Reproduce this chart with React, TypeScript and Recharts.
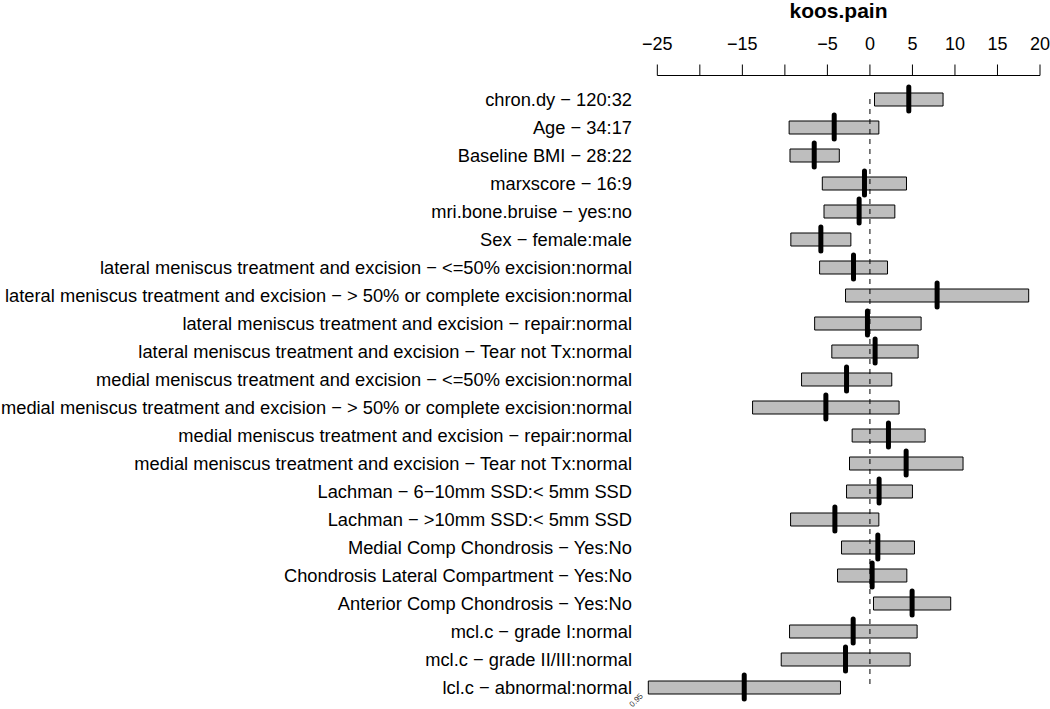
import { Bar, ComposedChart, Line, ReferenceLine, XAxis, YAxis } from "recharts";

const LABELS = [
  "chron.dy − 120:32",
  "Age − 34:17",
  "Baseline BMI − 28:22",
  "marxscore − 16:9",
  "mri.bone.bruise − yes:no",
  "Sex − female:male",
  "lateral meniscus treatment and excision − <=50% excision:normal",
  "lateral meniscus treatment and excision − > 50% or complete excision:normal",
  "lateral meniscus treatment and excision − repair:normal",
  "lateral meniscus treatment and excision − Tear not Tx:normal",
  "medial meniscus treatment and excision − <=50% excision:normal",
  "medial meniscus treatment and excision − > 50% or complete excision:normal",
  "medial meniscus treatment and excision − repair:normal",
  "medial meniscus treatment and excision − Tear not Tx:normal",
  "Lachman − 6−10mm SSD:< 5mm SSD",
  "Lachman − >10mm SSD:< 5mm SSD",
  "Medial Comp Chondrosis − Yes:No",
  "Chondrosis Lateral Compartment − Yes:No",
  "Anterior Comp Chondrosis − Yes:No",
  "mcl.c − grade I:normal",
  "mcl.c − grade II/III:normal",
  "lcl.c − abnormal:normal",
];

const LOWER = [
  0.54, -9.5, -9.4, -5.6, -5.4, -9.3, -5.92, -2.87, -6.5, -4.48, -8.04,
  -13.8, -2.09, -2.4, -2.75, -9.33, -3.34, -3.81, 0.42, -9.45, -10.43, -26.06,
];
const UPPER = [
  8.6, 1.05, -3.6, 4.3, 2.93, -2.24, 2.07, 18.67, 6.02, 5.67, 2.57, 3.43,
  6.49, 10.95, 5.0, 1.05, 5.24, 4.34, 9.5, 5.55, 4.73, -3.46,
];
const ESTIMATE = [
  4.57, -4.2, -6.55, -0.64, -1.27, -5.77, -1.93, 7.9, -0.29, 0.61, -2.75,
  -5.18, 2.18, 4.26, 1.08, -4.12, 0.93, 0.26, 4.96, -1.97, -2.87, -14.78,
];

const X_TICKS = [-25, -20, -15, -10, -5, 0, 5, 10, 15, 20];
// R dropped the -20 and -10 labels for lack of room
const X_LABELED = [-25, -15, -5, 0, 5, 10, 15, 20];
const X_DOMAIN: [number, number] = [-27.86, 20.47];

const W = 1050;
const H = 709;
const PLOT_LEFT = 633;
const PLOT_RIGHT = 1044;
const AXIS_Y = 75.5;
const FONT = "'Liberation Sans', Arial, Helvetica, sans-serif";

const PX_PER_UNIT = (PLOT_RIGHT - PLOT_LEFT) / (X_DOMAIN[1] - X_DOMAIN[0]);

const data = LABELS.map((label, i) => ({
  label,
  range: [LOWER[i], UPPER[i]],
  est: ESTIMATE[i],
}));

function TopTick(props: any) {
  const { x, payload, index } = props;
  const v = payload.value as number;
  const span = (X_TICKS[X_TICKS.length - 1] - X_TICKS[0]) * PX_PER_UNIT;
  return (
    <g>
      {index === 0 && (
        <line x1={x} x2={x + span} y1={AXIS_Y} y2={AXIS_Y} stroke="#000" strokeWidth={1} />
      )}
      <line x1={x} x2={x} y1={AXIS_Y - 11} y2={AXIS_Y} stroke="#000" strokeWidth={1} />
      {X_LABELED.includes(v) && (
        <text x={x} y={50} textAnchor="middle" fontSize={18} fontFamily={FONT} fill="#000">
          {v < 0 ? `−${Math.abs(v)}` : v}
        </text>
      )}
    </g>
  );
}

function RowLabel(props: any) {
  const { y, payload } = props;
  return (
    <text
      x={632}
      y={y}
      textAnchor="end"
      dominantBaseline="central"
      fontSize={18.3}
      fontFamily={FONT}
      fill="#000"
    >
      {payload.value}
    </text>
  );
}

function EstimateMark(props: any) {
  const { cx, cy } = props;
  if (cx == null || cy == null) return null;
  return (
    <line
      x1={cx}
      x2={cx}
      y1={cy - 12}
      y2={cy + 12}
      stroke="#000"
      strokeWidth={5}
      strokeLinecap="round"
    />
  );
}

export default function App() {
  return (
    <div style={{ position: "absolute", left: 0, top: 0, width: W, height: H, background: "#fff" }}>
      <ComposedChart
        width={W}
        height={H}
        data={data}
        layout="vertical"
        margin={{ top: 0, right: W - PLOT_RIGHT, bottom: 8, left: 0 }}
      >
        <XAxis
          type="number"
          orientation="top"
          domain={X_DOMAIN}
          ticks={X_TICKS}
          interval={0}
          height={85}
          axisLine={false}
          tickLine={false}
          tick={<TopTick />}
          allowDataOverflow
        />
        <YAxis
          type="category"
          dataKey="label"
          width={PLOT_LEFT}
          interval={0}
          axisLine={false}
          tickLine={false}
          tick={<RowLabel />}
        />
        <ReferenceLine
          segment={[
            { x: 0, y: LABELS[0] },
            { x: 0, y: LABELS[LABELS.length - 1] },
          ]}
          stroke="#000"
          strokeDasharray="5 5"
          strokeWidth={1}
        />
        <Bar
          dataKey="range"
          barSize={13}
          fill="#bebebe"
          stroke="#000"
          strokeWidth={1}
          isAnimationActive={false}
        />
        <Line
          dataKey="est"
          stroke="none"
          dot={<EstimateMark />}
          activeDot={false}
          isAnimationActive={false}
        />
      </ComposedChart>
      <svg
        width={W}
        height={H}
        style={{ position: "absolute", left: 0, top: 0, pointerEvents: "none" }}
      >
        <text
          x={(PLOT_LEFT + PLOT_RIGHT) / 2}
          y={18}
          textAnchor="middle"
          fontSize={21}
          fontWeight="bold"
          fontFamily={FONT}
          fill="#000"
        >
          koos.pain
        </text>
        <text
          x={638}
          y={702}
          textAnchor="middle"
          fontSize={8}
          fontFamily={FONT}
          fill="#333"
          transform="rotate(-45 638 702)"
        >
          0.95
        </text>
      </svg>
    </div>
  );
}
